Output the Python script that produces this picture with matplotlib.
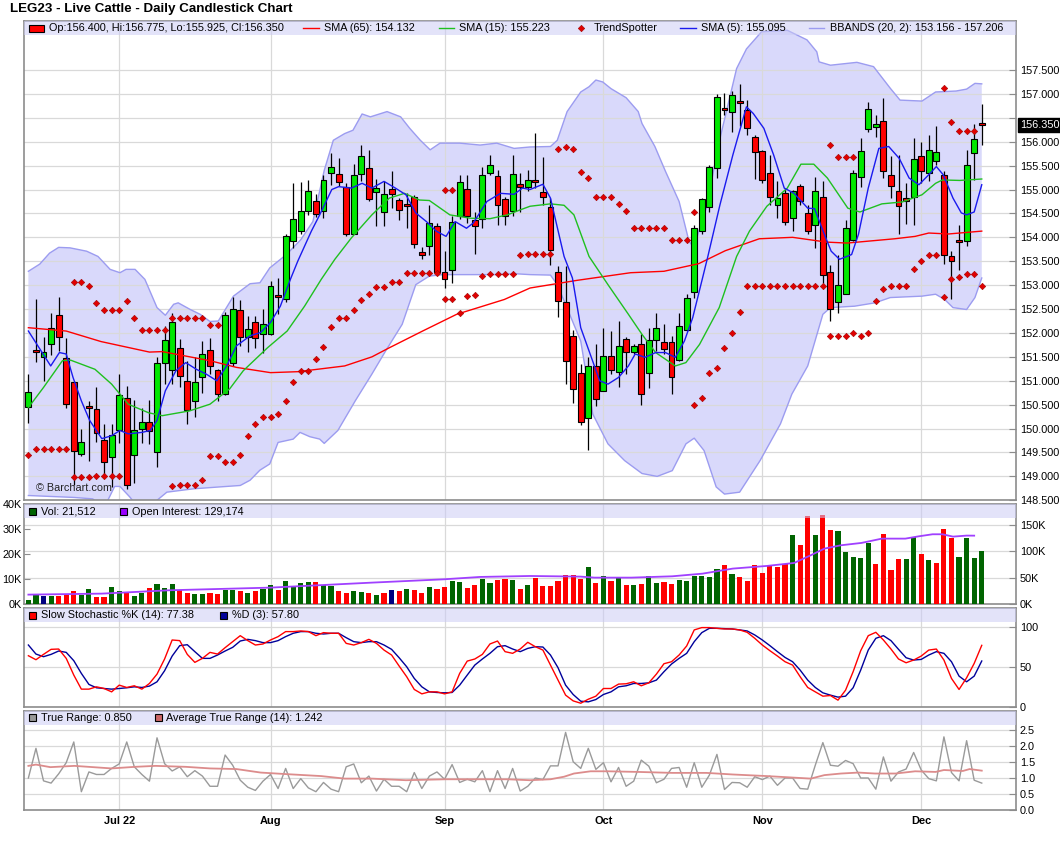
import numpy as np
import matplotlib
matplotlib.use("Agg")
import matplotlib.pyplot as plt
from matplotlib.patches import Rectangle
from matplotlib.lines import Line2D

# ---------------- data ----------------
month_idx = [12, 32, 55, 76, 97, 118]
month_lbl = ["Jul 22", "Aug", "Sep", "Oct", "Nov", "Dec"]

opens = [150.46,151.65,151.49,151.76,152.37,151.47,150.97,149.47,150.48,150.40,
         149.76,149.41,149.98,150.64,149.45,149.99,150.14,149.51,151.37,151.23,
         151.68,150.99,150.58,151.08,151.64,151.22,150.72,151.37,152.47,151.92,
         152.22,151.97,151.97,152.79,152.72,153.92,154.14,154.56,154.76,154.56,
         155.35,155.33,155.06,154.08,155.33,155.45,154.95,154.54,155.01,154.78,
         154.70,154.84,153.69,153.81,154.24,153.28,153.31,154.44,155.01,154.37,
         154.39,155.35,155.29,154.81,154.56,155.11,155.06,155.20,154.94,154.63,
         153.28,152.65,151.93,151.16,150.22,151.30,150.79,151.51,151.18,151.87,
         151.60,151.76,151.16,151.85,151.81,151.81,151.43,152.06,152.85,154.13,
         154.63,155.45,156.71,156.63,156.85,156.66,156.09,155.81,155.34,154.67,
         154.92,154.40,155.08,154.51,154.26,154.85,153.28,152.65,152.81,153.94,
         155.26,156.26,156.30,156.43,155.31,154.97,154.82,154.85,155.70,155.35,
         155.60,155.31,153.61,153.95,153.93,155.77,156.40]
highs = [151.14,152.72,151.92,152.41,152.76,151.89,151.00,149.99,150.58,150.86,
         150.10,150.10,151.14,150.90,150.60,150.44,150.60,151.49,152.15,152.42,
         151.87,151.42,151.49,151.83,151.90,151.24,152.44,152.75,152.68,152.35,
         152.35,152.51,153.08,153.15,154.06,155.13,155.15,155.19,154.90,155.31,
         155.76,155.65,155.13,155.54,155.93,155.83,155.22,155.17,155.39,154.82,
         154.92,154.89,153.79,154.68,154.30,153.71,154.45,155.31,155.31,154.54,
         155.48,155.73,155.41,154.85,155.73,155.34,155.41,156.18,155.69,154.82,
         153.40,153.40,152.06,151.35,151.49,151.76,152.10,152.04,152.25,151.92,
         151.76,151.97,152.10,152.41,152.18,151.94,152.42,152.81,154.25,154.83,
         155.51,157.00,157.02,157.06,157.20,156.88,156.14,155.83,155.72,155.17,
         155.03,155.00,155.11,154.68,155.27,155.17,153.43,153.64,154.37,155.41,
         156.08,156.83,156.56,156.92,155.71,155.72,155.13,156.07,156.00,156.15,
         156.33,155.39,153.72,154.25,155.82,156.38,156.78]
lows = [150.11,151.40,150.99,151.54,151.63,150.44,148.81,149.42,149.33,149.72,
        149.06,148.78,149.70,148.74,148.86,149.69,149.68,149.19,150.93,150.93,
        150.86,150.10,150.24,150.74,151.14,150.57,150.71,151.31,151.73,151.61,
        151.69,151.59,151.96,152.39,152.65,153.78,154.06,154.47,154.42,154.40,
        155.10,155.08,154.02,154.06,155.17,154.77,154.24,154.24,154.61,154.37,
        154.19,153.78,153.55,153.64,153.26,152.93,153.04,154.39,154.30,153.66,
        154.19,155.31,154.26,154.26,154.44,154.54,154.96,155.03,154.68,153.43,
        152.34,150.94,150.53,150.08,149.56,150.48,150.79,151.15,150.88,151.14,
        151.57,150.49,150.85,151.63,151.56,150.72,151.42,152.04,152.74,154.06,
        154.54,155.24,156.56,156.21,156.33,156.15,155.22,155.13,154.67,154.40,
        154.26,154.14,154.68,154.06,153.78,153.05,152.25,152.42,152.81,153.92,
        155.06,156.21,156.10,155.24,154.82,154.08,154.28,154.25,155.13,155.17,
        155.51,153.45,152.72,153.31,153.81,155.20,155.93]
closes = [150.76,151.60,151.60,152.10,151.91,150.51,149.54,149.72,150.42,149.91,
          149.31,149.87,150.70,148.83,149.97,150.14,149.95,151.37,151.85,152.22,
          151.10,150.39,150.97,151.55,151.30,150.72,152.37,152.51,151.92,152.09,
          151.89,152.18,152.99,152.75,154.02,154.39,154.56,154.97,154.49,155.20,
          155.47,155.16,154.08,155.31,155.70,154.81,155.04,154.91,154.91,154.58,
          154.65,153.87,153.62,154.30,153.28,153.12,154.33,155.16,154.45,154.24,
          155.31,155.51,154.68,154.44,155.33,155.06,155.20,155.16,154.85,153.74,
          152.67,151.42,150.83,150.14,151.30,150.62,151.51,151.22,151.72,151.60,
          151.72,150.72,151.85,152.10,151.66,151.07,152.15,152.74,154.19,154.81,
          155.47,156.93,156.66,156.97,156.81,156.29,155.79,155.20,154.85,154.82,
          154.33,154.96,154.75,154.13,154.96,153.21,152.51,153.01,154.19,155.34,
          155.81,156.68,156.38,155.39,155.08,154.65,154.76,155.64,155.39,155.82,
          155.78,153.63,153.51,153.90,155.51,156.06,156.35]

sma65_x = [0,5,9.6,16,17.7,24,27.5,32,35.6,41.8,45.4,47.7,52.1,56.6,62.9,66.3,72.5,79.6,84,88.6,
           92.1,96.6,101,105.5,108.2,114.5,117.2,119,121.6,126]
sma65_y = [152.11,152.04,151.82,151.60,151.61,151.42,151.28,151.17,151.19,151.31,151.50,151.69,
           152.04,152.39,152.70,152.94,153.10,153.26,153.29,153.45,153.72,153.97,154.00,153.90,
           153.88,153.97,154.02,154.09,154.07,154.13]
sma15_x = [0,2,4.5,5.6,8.8,11,13.2,15.9,17.7,21.3,24,26.6,28.4,31.6,34.2,36.5,38.7,40.5,42.7,45.4,
           47.7,49.7,51.7,53,55.7,58.4,61,63.3,65.1,66.3,69,70.8,72.1,74.1,76.6,79.3,81.1,82.9,85.5,86.9,
           88.7,91.3,93.6,95.3,97.6,100.3,102.1,103.8,105.6,108.3,109.9,112.8,115.5,118.1,119.9,120.8,123.1,126]
sma15_y = [150.44,150.86,151.42,151.43,151.24,150.93,150.51,150.33,150.27,150.37,150.51,150.83,151.21,
           151.69,152.04,152.56,153.12,153.54,153.99,154.47,154.82,154.92,154.78,154.77,154.47,154.40,
           154.39,154.47,154.58,154.65,154.70,154.67,154.47,153.60,153.01,152.39,151.97,151.59,151.31,
           151.38,151.76,152.53,153.60,154.13,154.65,155.03,155.53,155.53,155.24,154.61,154.53,154.70,
           154.74,154.89,155.13,155.20,155.19,155.22]
sma5_x = [0,2.95,4.1,5,5.9,7,8.1,9.7,11,12.1,13.2,15,16.1,17,18.1,19.5,20.8,22.2,23.5,24.9,
          26.2,27.5,29.3,30.7,32,33.3,34.7,35.6,37.4,38.5,40.1,41,42.7,44.1,45.4,47,48.5,49.9,51.2,52.6,
          53.9,55.2,56.4,57.9,58.8,60.6,62.4,64.2,65.3,66.3,68,69,70.8,71.9,73,74.4,75.5,76.6,78,79.3,
          80.2,81.5,82.9,84.2,85.5,86.7,87.8,89.1,89.8,91.4,93.1,94.9,95.8,97.2,98.5,99.9,101.2,103,103.9,105.2,
          106.1,107.2,108.8,109.7,111,112.4,113.7,115.1,116.4,117.7,119,120,120.9,122.2,123.3,124,125,126]
sma5_y = [152.04,151.31,151.59,151.56,151.07,150.58,150.17,149.79,149.85,149.96,149.89,149.92,149.96,
          150.17,150.79,151.21,151.38,151.24,151.14,151.00,151.31,151.73,151.94,152.01,152.22,152.56,
          153.15,153.50,154.13,154.47,155.00,155.06,155.03,155.13,155.03,155.17,155.03,154.89,154.51,
          154.33,154.13,154.02,154.33,154.19,154.30,154.75,154.92,154.90,155.03,155.00,155.11,154.82,
          153.60,153.15,152.11,151.49,151.00,150.93,151.07,151.31,151.56,151.49,151.59,151.59,151.49,
          151.83,152.32,153.15,153.60,154.68,155.72,156.73,156.59,156.28,155.72,155.03,154.92,154.61,
          154.60,154.06,153.71,153.54,153.64,154.06,155.03,155.86,155.90,155.65,155.24,155.10,155.31,
          155.48,155.31,154.82,154.51,154.47,154.53,155.10]

bb_up_x = [0,1.5,2.8,4,5.5,7.7,9.2,10.8,12.1,12.9,14.1,15.4,17,18.1,19.2,19.8,21.4,22.7,24,25.1,
           27.1,29.3,30.6,31.9,34.1,36,37.6,39.1,40.3,41.8,42.9,44.1,45.2,47.4,49.2,50.4,51.8,53.1,54.4,57,59.7,61.9,
           64.2,66.3,69,69.9,71.2,73,74.1,75,75.9,77,79,80.6,81.1,82.8,84.2,86,87.3,88,88.6,89.6,
           91.3,93.6,94.9,96.9,100.3,102.9,104.2,104.5,106,109.5,111.7,113.9,115.2,118.1,119.9,122.6,
           124,125.1,126]
bb_up_y = [153.29,153.44,153.67,153.79,153.78,153.71,153.60,153.33,153.26,153.33,153.33,153.12,152.53,
           152.37,152.60,152.63,152.49,152.39,152.24,152.25,152.77,153.03,153.05,153.36,153.64,153.95,
           154.33,155.40,156.03,156.17,156.24,156.58,156.52,156.63,156.52,156.28,156.03,155.83,155.97,
           155.97,155.93,155.97,155.86,155.89,155.90,156.03,156.63,157.04,157.15,157.29,157.25,157.11,
           156.92,156.63,156.38,155.90,155.38,154.75,153.92,153.78,154.13,154.61,156.00,157.53,157.94,
           158.30,158.33,158.13,157.88,157.67,157.60,157.66,157.57,157.12,156.87,156.85,157.04,157.06,
           157.10,157.22,157.21]
bb_lo_x = [0,3,6,8.5,9.5,10.5,11.4,12.1,13.4,14.5,16,17,18.3,21.8,25.3,28,29.3,30.6,31.9,33,
           35,35.9,37.2,38.5,39.1,40.9,43.2,45.4,47.2,49.4,51.2,53,54.8,58.8,61.9,64.2,66.3,69,69.9,70.8,
           73,74.6,76.6,78.8,81.1,83.1,85.1,86.9,88,89.3,90.9,92,94,96.7,99.4,100.9,103,105,106,109.2,
           111.9,113.9,118.1,119.9,121.1,122.2,124,125.1,126]
bb_lo_y = [148.60,148.58,148.56,148.53,148.40,148.50,148.79,148.79,148.57,148.35,148.30,148.50,148.67,
           148.74,148.78,148.81,148.92,149.13,149.26,149.71,149.78,149.92,149.83,149.78,149.69,149.96,
           150.58,151.14,151.62,152.18,153.01,153.19,153.22,153.22,153.22,153.24,153.22,153.21,153.01,
           152.67,151.83,150.30,149.68,149.33,149.06,149.00,149.12,149.68,149.80,149.54,148.78,148.63,
           148.67,149.33,150.10,150.72,151.31,152.39,152.53,152.56,152.63,152.74,152.77,152.81,152.70,
           152.53,152.49,152.74,153.15]

ts_up_idx = [6,7,8,9,10,11,12,13,14,15,16,17,18,19,20,21,22,23,24,25,55,56,
             70,71,72,73,74,75,76,77,78,79,80,81,82,83,84,85,86,87,88,106,107,108,109,
             121,122,123,124,125]
ts_up_val = [153.06,153.06,152.98,152.62,152.47,152.47,152.47,152.67,152.32,152.06,152.06,152.06,
             152.06,152.32,152.32,152.32,152.32,152.32,152.16,152.16,154.99,154.99,
             155.84,155.88,155.84,155.36,155.25,154.85,154.85,154.85,154.69,154.55,154.19,154.19,
             154.19,154.19,154.19,153.94,153.94,153.94,154.52,155.94,155.68,155.68,155.68,
             157.12,156.41,156.23,156.23,156.23]
ts_lo_idx = [0,1,2,3,4,5,6,7,8,9,10,11,12,19,20,21,22,23,24,25,26,27,28,29,30,31,32,33,34,35,36,
             37,38,39,40,41,42,43,44,45,46,47,48,49,50,51,52,53,54,55,56,57,58,59,60,61,62,63,64,
             65,66,67,68,69,88,89,90,91,92,93,94,95,96,97,98,99,100,101,102,103,104,105,106,107,
             108,109,110,111,112,113,114,115,116,117,118,119,120,121,122,123,124,125,126]
ts_lo_val = [149.45,149.58,149.58,149.58,149.58,149.58,148.98,148.98,148.98,149.00,149.00,149.00,149.00,
             148.79,148.81,148.81,148.81,148.92,149.42,149.42,149.31,149.31,149.44,149.85,150.10,
             150.24,150.24,150.31,150.57,150.97,151.21,151.21,151.45,151.71,152.12,152.32,152.32,
             152.47,152.68,152.81,152.96,152.96,153.07,153.07,153.26,153.26,153.26,153.26,153.26,
             152.72,152.72,152.41,152.77,152.79,153.19,153.24,153.24,153.24,153.24,
             153.64,153.66,153.66,153.66,153.66,150.49,150.65,151.16,151.26,151.69,151.99,152.43,
             152.98,152.98,152.98,152.98,152.98,152.98,152.98,152.98,152.98,152.98,152.98,
             151.93,151.93,151.93,152.00,151.93,152.00,152.66,152.91,152.98,152.98,152.98,
             153.33,153.51,153.62,153.62,152.75,153.12,153.17,153.24,153.24,152.98]

volume_k = [1.6,4.0,3.2,3.2,3.2,3.6,5.2,3.6,6.0,2.9,2.9,6.8,5.2,4.7,3.3,4.4,6.4,8.0,6.4,8.0,
            5.6,4.4,4.0,4.0,4.4,4.0,5.6,5.6,5.2,4.4,5.2,6.0,7.6,5.6,9.2,7.2,8.4,8.8,8.8,7.6,
            7.2,5.2,4.4,5.2,4.8,4.4,3.6,4.4,5.6,5.2,6.0,5.6,4.4,6.8,6.0,6.8,9.2,8.8,6.4,7.6,
            10.0,8.4,9.6,10.0,9.6,6.0,7.6,10.4,7.2,7.2,9.2,11.6,11.6,10.0,14.8,8.4,11.2,
            9.2,10.8,7.6,7.6,8.0,11.2,8.4,8.8,8.0,9.6,9.2,11.2,11.2,10.8,14.0,15.6,12.0,10.8,9.2,15.6,
            12.4,15.2,14.8,16.0,27.6,23.6,35.3,27.6,35.6,29.7,29.3,20.8,18.8,18.4,24.4,16.0,28.0,13.6,18.0,18.0,
            26.9,20.0,17.6,16.4,30.0,26.4,18.8,26.4,18.4,21.5]
volume_col = ("ggngrrrggr" "rggrggrggg" "rrggrrggrg" "rggrggggrg" "grrggrgrnr" "grrgrrggrr"
              "ggrrgrg" "rrrrrrrgrg" "rgrgrggrrg" "gggggrgrrr" "rrrrgrrgrr" "gggggrrrrg" "grgrrrgggg")

oi_x = [0,9.7,18.6,32,45.4,55,59.7,66.3,73,74.8,79.7,85.1,89.1,93.1,97.6,101.2,103.4,105.2,107.4,
        110.1,112.8,115.9,117.7,119.5,120.8,122.2,124,125]
oi_k = [18.2,20.1,26.4,31.4,40.8,47.1,51.5,53.3,52.1,50.2,50.2,52.7,57.7,67.2,72.2,77.8,92.3,104.8,
        111.1,115.5,123.6,123.6,128.0,131.8,131.8,127.4,129.3,129.2]

stoch_k = [64.4,59.4,66.1,72.4,72.8,61.1,40.2,22.6,22.6,25.5,23.4,19.2,27.6,24.7,26.8,22.6,29.7,41.4,
           60.3,84.1,83.3,66.1,56.1,61.1,68.6,66.5,74.5,82.0,89.5,83.3,77.8,79.1,84.1,88.3,94.6,94.6,
           95.4,94.6,89.5,93.3,92.5,92.5,79.9,77.8,80.8,84.9,79.9,71.5,65.3,51.5,38.1,22.2,16.7,19.2,
           19.2,16.7,19.2,42.3,57.7,60.3,66.1,79.1,82.8,69.5,67.4,72.8,81.2,75.7,71.5,52.7,33.9,15.1,
           7.9,5.0,10.0,13.8,23.4,23.4,28.9,29.3,31.8,26.8,30.5,41.4,54.4,56.9,65.3,76.6,96.7,99.6,
           99.6,98.7,97.9,97.9,96.7,93.7,86.2,77.8,70.7,64.0,56.9,52.7,38.1,24.7,19.2,13.8,14.6,8.8,
           21.3,44.4,70.7,89.5,93.7,84.1,72.8,60.3,55.6,59.0,64.0,71.5,72.8,59.0,36.0,22.2,36.8,54.8,77.4]
stoch_d = [77.8,66.5,63.2,66.1,70.3,68.6,58.2,42.3,28.5,24.3,23.4,22.6,23.4,24.3,25.5,24.7,26.4,31.8,
           45.6,64.0,77.0,78.2,69.5,61.1,61.1,65.3,70.3,74.9,82.8,84.9,83.3,80.8,80.8,83.3,88.3,92.5,
           94.6,94.6,92.5,91.6,92.5,92.5,87.0,82.0,80.8,82.0,82.0,77.8,72.4,61.9,50.6,36.0,25.5,19.2,
           18.4,18.0,18.4,27.6,40.2,52.7,60.3,67.4,75.7,77.0,72.8,69.5,73.6,75.7,75.3,65.3,49.4,27.6,
           15.9,7.5,6.7,9.6,15.9,19.2,25.5,26.8,29.7,29.7,30.5,33.9,44.4,54.0,61.1,67.4,82.0,93.3,
           98.7,98.7,98.3,97.9,96.7,95.4,90.4,84.1,77.0,69.5,62.3,56.9,46.4,33.9,24.7,18.0,15.1,12.6,
           13.8,24.3,46.4,71.5,86.2,89.5,83.3,72.4,61.9,59.0,59.8,65.3,69.5,67.4,56.9,38.9,31.8,38.9,57.8]

true_range = [1.01,1.94,0.92,0.85,1.14,1.49,2.14,0.58,1.20,1.12,1.12,1.31,1.45,2.14,1.36,1.12,0.91,2.27,
              1.46,1.23,1.36,1.05,1.24,1.07,0.75,0.75,1.73,1.41,0.94,0.72,0.62,0.91,1.12,0.68,1.31,0.68,
              0.99,0.70,0.58,0.87,0.66,0.58,1.36,1.45,0.86,1.07,0.60,0.97,0.75,0.75,0.58,1.18,0.68,1.07,
              1.20,0.97,1.43,0.87,0.97,0.89,1.24,0.58,1.24,0.68,1.31,0.60,0.75,1.01,0.96,1.39,1.39,2.44,
              1.52,1.31,1.94,1.28,1.49,0.89,1.34,0.75,0.91,1.57,1.38,0.86,0.97,1.31,1.34,0.72,1.49,0.72,
              1.10,1.75,0.65,0.87,0.86,0.72,1.05,0.96,1.07,0.78,1.01,1.01,0.68,0.66,1.41,2.12,1.41,1.38,
              1.56,1.46,1.01,1.01,0.66,1.67,0.91,1.20,1.29,1.81,1.26,0.99,0.92,2.30,1.18,0.92,2.18,0.94,0.85]
atr_x = [0,1,2.9,6.1,11,14.1,16.8,20.8,24,27.5,30.7,34.2,38.7,41.8,45.4,49.9,55.2,58.8,63.3,66.3,
         69,70.8,72.1,74.3,76.6,80.6,85.1,89.6,93.1,97.6,102,103.4,105.2,107.4,109.7,111.9,114.6,117.2,
         119.9,121,123.5,124.4,126]
atr_y = [1.39,1.43,1.35,1.39,1.31,1.36,1.39,1.36,1.31,1.29,1.18,1.13,1.07,0.99,0.99,0.94,0.97,0.97,
         0.97,0.94,0.97,1.05,1.15,1.22,1.22,1.20,1.17,1.17,1.12,1.07,1.01,0.99,1.10,1.15,1.18,1.15,
         1.15,1.22,1.20,1.26,1.23,1.29,1.24]

# ---------------- figure ----------------
plt.rcParams['font.family'] = ['Liberation Sans', 'DejaVu Sans']
W, H = 1060, 851
fig = plt.figure(figsize=(W / 100, H / 100), dpi=100)
fig.patch.set_facecolor('white')

XL, XR = 24.3, 1015.8
X0, X1 = -0.54, 130.5
GRID = '#d9d9d9'
SPINE = '#8c8c8c'
FS = 7.8
BAND_FC = (0.80, 0.80, 0.96)


def fx(x):
    return x / W


def fy(y):
    return 1 - y / H


def make_ax(top, bot):
    ax = fig.add_axes([XL / W, 1 - bot / H, (XR - XL) / W, (bot - top) / H])
    ax.set_xlim(X0, X1)
    for s in ax.spines.values():
        s.set_color(SPINE)
        s.set_linewidth(1.2)
    ax.set_xticks(month_idx)
    ax.tick_params(axis='x', length=0, labelbottom=False)
    ax.grid(True, axis='x', color=GRID, lw=0.9)
    ax.set_axisbelow(True)
    return ax


def band(ax, top, bot):
    hfrac = 14.0 / (bot - top)
    ax.add_patch(Rectangle((0, 1 - hfrac), 1, hfrac, transform=ax.transAxes,
                           fc=BAND_FC, alpha=0.55, lw=0, zorder=10))


def leg_sq(x, y, color, w=7, h=7):
    fig.add_artist(Rectangle((fx(x), fy(y + h / 2)), w / W, h / H, transform=fig.transFigure,
                             fc=color, ec='black', lw=0.8, zorder=20))


def leg_line(x0, x1, y, color, lw=1.0):
    fig.add_artist(Line2D([fx(x0), fx(x1)], [fy(y), fy(y)], transform=fig.transFigure,
                          color=color, lw=lw, zorder=20))


def leg_txt(x, y, s):
    fig.text(fx(x), fy(y), s, fontsize=FS, va='center', ha='left', zorder=21)


def right_ticks(ax, ticks, labels):
    ax.yaxis.tick_right()
    ax.set_yticks(ticks)
    ax.set_yticklabels(labels)
    ax.tick_params(axis='y', direction='in', length=5, color=SPINE, labelsize=FS, pad=3)
    ax.grid(True, axis='y', color=GRID, lw=0.9)


# ---- main price panel ----
MT, MB = 20.5, 500.3
ax = make_ax(MT, MB)
ax.set_ylim(148.5, 158.535)
ticks = np.arange(148.5, 157.51, 0.5)
right_ticks(ax, ticks, ['' if abs(t - 156.5) < 1e-6 else f'{t:.3f}' for t in ticks])

ax.fill(list(bb_up_x) + list(bb_lo_x[::-1]), list(bb_up_y) + list(bb_lo_y[::-1]),
        fc='#d9d9fb', ec='none', zorder=0.3)
ax.plot(bb_up_x, bb_up_y, color='#9c9cf0', lw=1.0, zorder=0.6)
ax.plot(bb_lo_x, bb_lo_y, color='#9c9cf0', lw=1.0, zorder=0.6)

idx = np.arange(len(opens))
o = np.array(opens); hi = np.array(highs); lo = np.array(lows); c = np.array(closes)
up = c >= o
ax.vlines(idx, lo, hi, color='black', lw=0.9, zorder=3)
body_bot = np.minimum(o, c)
body_h = np.maximum(np.abs(c - o), 0.035)
ax.bar(idx, body_h, bottom=body_bot, width=0.78,
       color=np.where(up, '#00e800', '#ff0000'), edgecolor='black', linewidth=0.8, zorder=4)

ax.plot(sma65_x, sma65_y, color='#ff0000', lw=1.0, zorder=5)
ax.plot(sma15_x, sma15_y, color='#1fc01f', lw=1.0, zorder=5)
ax.plot(sma5_x, sma5_y, color='#1a1aee', lw=1.0, zorder=5)
ax.plot(ts_up_idx, ts_up_val, ls='none', marker='D', ms=3.3, mfc='#e00000', mec='#a00000', mew=0.4, zorder=6)
ax.plot(ts_lo_idx, ts_lo_val, ls='none', marker='D', ms=3.3, mfc='#e00000', mec='#a00000', mew=0.4, zorder=6)
band(ax, MT, MB)
fig.text(fx(36.5), fy(488), '\u00a9 Barchart.com', fontsize=FS, color='#222222', va='center', ha='left')
fig.text(fx(1020.0), fy(125.2), '156.350', fontsize=FS, color='white', va='center', ha='left',
         bbox=dict(boxstyle='square,pad=0.18', fc='black', ec='black'), zorder=30)

# main legend
leg_sq(29.4, 28.3, '#ff0000', w=15, h=7)
leg_txt(49.4, 28.3, 'Op:156.400, Hi:156.775, Lo:155.925, Cl:156.350')
leg_line(303, 319, 28.3, '#ff0000')
leg_txt(323.5, 28.3, 'SMA (65): 154.132')
leg_line(438.5, 454, 28.3, '#1fc01f')
leg_txt(459, 28.3, 'SMA (15): 155.223')
fig.add_artist(Line2D([fx(580.7)], [fy(28.3)], transform=fig.transFigure, ls='none', marker='D',
                      ms=3.3, mfc='#e00000', mec='#a00000', mew=0.4, zorder=20))
leg_txt(593.2, 28.3, 'TrendSpotter')
leg_line(680.4, 695.7, 28.3, '#1a1aee')
leg_txt(700.7, 28.3, 'SMA (5): 155.095')
leg_line(809, 824, 28.3, '#9c9cf0')
leg_txt(830, 28.3, 'BBANDS (20, 2): 153.156 - 157.206')

fig.text(fx(10), fy(8.8), 'LEG23 - Live Cattle - Daily Candlestick Chart', fontsize=9.6,
         fontweight='bold', va='center', ha='left')

# ---- volume panel ----
VT, VB = 504.3, 604.3
VOL_TOP, OI_TOP = 40.0, 188.2
axv = make_ax(VT, VB)
axv.set_ylim(0, VOL_TOP)
axv.set_yticks([0, 10, 20, 30, 40])
axv.set_yticklabels(['0K', '10K', '20K', '30K', '40K'])
axv.tick_params(axis='y', direction='in', length=4, color=SPINE, labelsize=FS, pad=2)
for g in (50, 100, 150):
    axv.axhline(g * VOL_TOP / OI_TOP, color=GRID, lw=0.9, zorder=0.5)
cmap = {'g': '#006400', 'r': '#ff0000', 'n': '#000080'}
axv.bar(idx, volume_k, width=0.68, color=[cmap[ch] for ch in volume_col], zorder=3)
axo = axv.twinx()
axo.set_xlim(X0, X1)
axo.set_ylim(0, OI_TOP)
axo.set_yticks([0, 50, 100, 150])
axo.set_yticklabels(['0K', '50K', '100K', '150K'])
axo.tick_params(axis='y', direction='in', length=5, color=SPINE, labelsize=FS, pad=3)
for s in axo.spines.values():
    s.set_visible(False)
axo.plot(oi_x, oi_k, color='#a040ff', lw=1.3, zorder=5)
band(axo, VT, VB)
leg_sq(29.4, 511.7, '#006400')
leg_txt(41.2, 511.7, 'Vol: 21,512')
leg_sq(120.4, 511.7, '#9900ff')
leg_txt(131.8, 511.7, 'Open Interest: 129,174')

# ---- stochastic panel ----
ST, SB = 607.7, 707.2
axs = make_ax(ST, SB)
axs.set_ylim(0, 124.5)
right_ticks(axs, [0, 50, 100], ['0', '50', '100'])
axs.plot(idx, stoch_k, color='#ff0000', lw=1.0, zorder=4)
axs.plot(idx, stoch_d, color='#00009a', lw=1.0, zorder=3)
band(axs, ST, SB)
leg_sq(29.4, 615.0, '#ff0000')
leg_txt(41.2, 615.0, 'Slow Stochastic %K (14): 77.38')
leg_sq(220.4, 615.0, '#000099')
leg_txt(232.0, 615.0, '%D (3): 57.80')

# ---- true range panel ----
TT, TB = 710.7, 810.2
axt = make_ax(TT, TB)
axt.set_ylim(0, 3.12)
tr_ticks = [0, 0.5, 1.0, 1.5, 2.0, 2.5]
right_ticks(axt, tr_ticks, [f'{t:.1f}' for t in tr_ticks])
axt.plot(idx, true_range, color='#9a9a9a', lw=1.0, zorder=3)
axt.plot(atr_x, atr_y, color='#dc8c8c', lw=1.3, zorder=4)
band(axt, TT, TB)
axt.tick_params(axis='x', labelbottom=True, length=0, pad=4)
axt.set_xticklabels(month_lbl, fontweight='bold', fontsize=7.9)
leg_sq(29.4, 717.7, '#999999')
leg_txt(41.2, 717.7, 'True Range: 0.850')
leg_sq(154.5, 717.7, '#cc6666')
leg_txt(166.3, 717.7, 'Average True Range (14): 1.242')

fig.savefig('out.png', dpi=100, facecolor='white')
